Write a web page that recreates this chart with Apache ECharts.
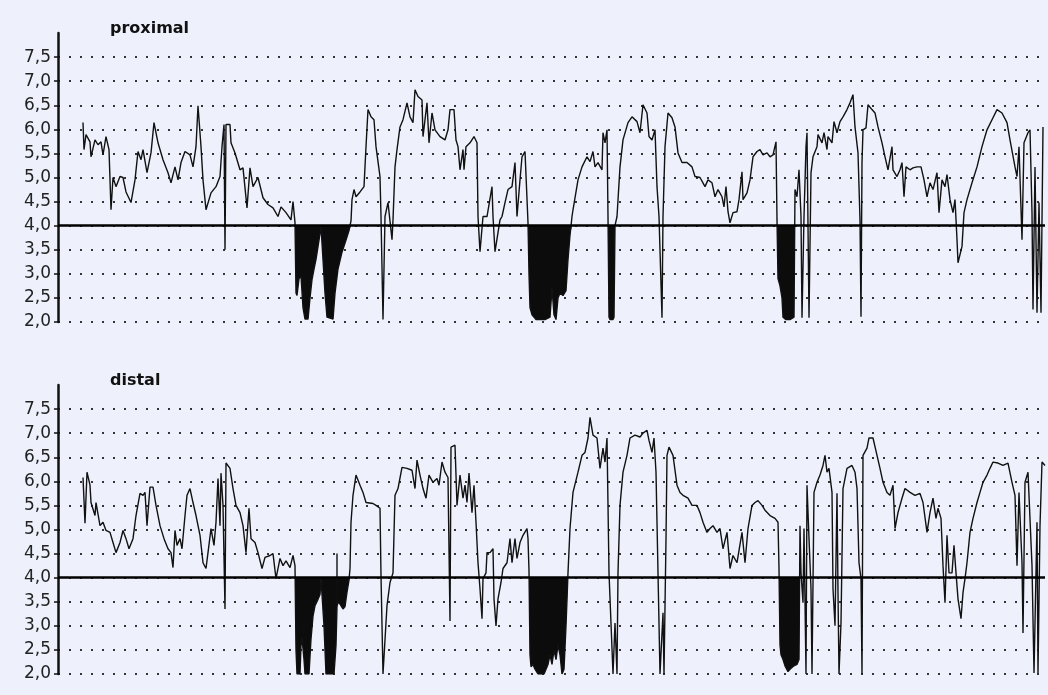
<!DOCTYPE html>
<html>
<head>
<meta charset="utf-8">
<script src="https://cdn.jsdelivr.net/npm/echarts@6/dist/echarts.min.js"></script>
<style>
  html, body { margin: 0; padding: 0; background: #eef1fb; }
  #chart { width: 1048px; height: 695px; }
</style>
</head>
<body>
<div id="chart"></div>
<script>
// pH ticks shown on both panels
const tickLabels = [2.0, 2.5, 3.0, 3.5, 4.0, 4.5, 5.0, 5.5, 6.0, 6.5, 7.0, 7.5]

// proximal probe: recording time (arbitrary units) and pH
const proxTime = [83, 84, 86, 90, 91, 95, 98, 101, 103, 106, 109, 111, 113, 116, 120, 123, 126, 131, 135, 138, 141, 143, 147, 151, 154, 158, 163, 168, 171, 175, 178, 181, 185, 190, 193, 196, 198, 201, 203, 206, 211, 216, 220, 222, 224, 225, 226, 230, 231, 235, 240, 243, 247, 250, 253, 258, 263, 268, 273, 278, 281, 286, 291, 293, 295,
  296, 297, 299, 301, 303, 305, 308, 310, 312, 314, 316, 319, 321, 322, 323, 325, 327, 333, 335, 338, 342, 346, 349, 351,
  352, 354, 356, 360, 364, 366, 368, 371, 374, 376, 380, 381, 383, 385, 388, 392, 393, 395, 397, 400, 403, 407, 410, 413, 415, 418, 422, 423, 427, 429, 432, 435, 440, 445, 448, 450, 454, 456, 458, 460, 463, 464, 466, 470, 474, 477, 478, 480, 483, 487, 492, 493, 495, 497, 500, 502, 505, 508, 512, 515, 517, 520, 522, 525, 527, 528,
  529, 530, 532, 536, 540, 545, 550, 552, 554, 556, 558, 560, 563, 566, 568, 570, 572,
  573, 578, 582, 587, 590, 593, 595, 598, 602, 603, 605, 607, 608, 609, 610, 613, 614, 615, 617, 620, 623, 628, 632, 637, 640, 643, 647, 649, 652, 655, 657, 659, 662, 663, 665, 668, 672, 675, 678, 682, 687, 692, 695, 700, 705, 708, 712, 715, 718, 722, 724, 726, 728, 730, 733, 737, 739, 742, 743, 747, 750, 753, 757, 760, 763, 767, 770, 773, 776, 777,
  778, 780, 782, 783, 786, 790, 792, 794,
  795, 797, 799, 801, 802, 804, 806, 807, 809, 811, 813, 817, 818, 822, 824, 827, 828, 832, 834, 837, 840, 843, 847, 850, 853, 855, 858, 860, 861, 862, 863, 866, 868, 872, 875, 878, 882, 885, 888, 892, 893, 897, 900, 902, 904, 906, 910, 913, 917, 921, 924, 927, 930, 933, 937, 939, 942, 945, 947, 950, 953, 955, 957, 958, 962, 964, 967, 972, 977, 982, 987, 992, 997, 1002, 1007, 1010, 1015, 1017, 1019, 1022, 1024, 1028, 1030, 1032, 1033, 1035, 1037, 1039, 1041, 1043]
const proxPH = [6.14, 5.58, 5.89, 5.74, 5.43, 5.78, 5.68, 5.74, 5.47, 5.85, 5.58, 4.33, 5.0, 4.81, 5.02, 5.0, 4.7, 4.48, 4.95, 5.54, 5.37, 5.58, 5.1, 5.51, 6.14, 5.72, 5.37, 5.1, 4.89, 5.22, 4.95, 5.31, 5.54, 5.47, 5.22, 5.64, 6.49, 5.64, 4.95, 4.33, 4.68, 4.81, 5.02, 5.64, 6.1, 3.5, 6.1, 6.1, 5.72, 5.51, 5.16, 5.2, 4.37, 5.2, 4.81, 5.0, 4.58, 4.44, 4.37, 4.19, 4.39, 4.27, 4.12, 4.5, 4.06,
  2.6, 2.55, 2.9, 2.95, 2.3, 2.06, 2.06, 2.5, 2.88, 3.1, 3.3, 3.7, 3.98, 4.0, 3.3, 2.6, 2.1, 2.06, 2.6, 3.1, 3.45, 3.7, 3.9, 4.1,
  4.54, 4.75, 4.6, 4.7, 4.81, 5.64, 6.41, 6.26, 6.2, 5.64, 5.02, 4.19, 2.05, 4.19, 4.48, 3.71, 4.12, 5.22, 5.58, 6.05, 6.2, 6.55, 6.26, 6.14, 6.82, 6.68, 6.61, 5.85, 6.55, 5.72, 6.34, 5.99, 5.85, 5.78, 5.99, 6.41, 6.41, 5.78, 5.64, 5.16, 5.58, 5.16, 5.64, 5.72, 5.85, 5.72, 4.19, 3.46, 4.19, 4.19, 4.81, 4.19, 3.46, 3.5, 4.12, 4.19, 4.48, 4.75, 4.81, 5.31, 4.19, 4.95, 5.43, 5.54, 5.51, 4.06,
  3.0, 2.3, 2.15, 2.05, 2.05, 2.05, 2.1, 2.7, 2.15, 2.05, 2.5, 2.6, 2.55, 2.65, 3.3, 3.8, 4.19,
  4.33, 4.95, 5.22, 5.43, 5.33, 5.54, 5.22, 5.31, 5.16, 5.93, 5.72, 5.99, 4.19, 2.1, 2.05, 2.05, 2.1, 4.0, 4.19, 5.22, 5.78, 6.14, 6.26, 6.16, 5.93, 6.51, 6.34, 5.85, 5.78, 5.99, 4.81, 4.19, 2.09, 4.19, 5.64, 6.34, 6.24, 6.05, 5.51, 5.31, 5.31, 5.22, 5.02, 5.0, 4.81, 4.95, 4.89, 4.6, 4.75, 4.6, 4.39, 4.81, 4.29, 4.06, 4.27, 4.29, 4.54, 5.12, 4.54, 4.68, 4.95, 5.43, 5.54, 5.58, 5.47, 5.51, 5.43, 5.47, 5.74, 4.12,
  2.9, 2.75, 2.5, 2.1, 2.05, 2.05, 2.05, 2.1,
  4.75, 4.6, 5.16, 4.19, 2.09, 4.19, 5.64, 5.93, 2.09, 5.1, 5.43, 5.64, 5.89, 5.72, 5.93, 5.58, 5.85, 5.72, 6.16, 5.93, 6.16, 6.26, 6.41, 6.55, 6.72, 6.05, 5.51, 4.12, 2.11, 5.31, 5.99, 6.03, 6.51, 6.41, 6.34, 6.05, 5.72, 5.43, 5.16, 5.64, 5.16, 5.02, 5.16, 5.31, 4.6, 5.22, 5.16, 5.2, 5.22, 5.22, 4.95, 4.6, 4.89, 4.75, 5.1, 4.27, 4.95, 4.81, 5.06, 4.54, 4.27, 4.54, 3.71, 3.23, 3.57, 4.27, 4.54, 4.89, 5.22, 5.64, 5.99, 6.2, 6.41, 6.34, 6.14, 5.78, 5.22, 5.02, 5.64, 3.71, 5.72, 5.93, 5.99, 4.27, 2.26, 5.22, 2.19, 4.48, 2.19, 6.05]
// acid reflux episodes (black filled), start and end time
const proxEpisodes = [[295, 351], [528, 572], [608, 615], [777, 795]]

// distal probe
const distTime = [83, 85, 87, 90, 91, 95, 96, 100, 103, 106, 110, 113, 116, 120, 123, 126, 129, 133, 136, 140, 143, 145, 147, 150, 153, 156, 160, 164, 168, 171, 173, 175, 177, 180, 182, 185, 187, 190, 193, 196, 200, 203, 206, 208, 211, 214, 216, 218, 220, 221, 223, 225, 226, 230, 233, 236, 240, 243, 246, 249, 251, 255, 258, 262, 265, 270, 273, 276, 280, 283, 286, 290, 293, 295,
  296, 297, 300, 301, 302, 304, 305, 309, 311, 313, 315, 318, 320, 321, 322, 324, 326, 330, 334, 336, 337, 337, 337, 338, 340, 343, 345, 347, 349, 350,
  351, 353, 356, 360, 363, 366, 373, 376, 380, 381, 383, 387, 390, 393, 395, 398, 402, 407, 412, 415, 417, 420, 423, 426, 429, 433, 437, 439, 442, 445, 448, 450, 451, 453, 455, 457, 460, 463, 465, 467, 469, 472, 474, 476, 478, 480, 482, 483, 486, 487, 490, 493, 494, 496, 498, 501, 503, 507, 510, 512, 515, 517, 520, 523, 527, 528, 529,
  530, 531, 533, 535, 538, 541, 544, 546, 548, 550, 552, 554, 556, 558, 560, 562, 564, 566, 568,
  570, 573, 578, 582, 585, 588, 590, 593, 597, 600, 603, 605, 607, 609, 613, 615, 617, 618, 620, 623, 627, 630, 635, 640, 643, 647, 649, 652, 654, 656, 658, 660, 663, 664, 666, 667, 669, 673, 677, 680, 683, 688, 692, 697, 700, 703, 707, 710, 713, 717, 720, 723, 727, 730, 733, 737, 742, 745, 748, 752, 755, 758, 762, 765, 770, 775, 778, 779,
  780, 781, 783, 785, 788, 790, 794, 797, 799,
  800, 801, 803, 804, 806, 807, 809, 811, 812, 814, 817, 820, 823, 825, 827, 829, 832, 833, 835, 837, 838, 839, 841, 843, 847, 852, 855, 857, 859, 861, 862, 863, 867, 869, 873, 877, 880, 883, 887, 890, 893, 895, 898, 902, 905, 910, 915, 920, 923, 927, 930, 933, 936, 938, 941, 943, 945, 947, 949, 952, 954, 956, 958, 961, 963, 965, 967, 970, 973, 977, 980, 983, 987, 990, 993, 998, 1003, 1008, 1012, 1015, 1017, 1019, 1022, 1023, 1025, 1028, 1030, 1032, 1034, 1037, 1038, 1040, 1042, 1045]
const distPH = [6.08, 5.13, 6.19, 5.92, 5.56, 5.29, 5.56, 5.08, 5.15, 4.98, 4.94, 4.73, 4.52, 4.73, 4.98, 4.81, 4.6, 4.81, 5.29, 5.75, 5.71, 5.77, 5.08, 5.88, 5.88, 5.5, 5.08, 4.81, 4.6, 4.52, 4.21, 4.98, 4.67, 4.81, 4.6, 5.29, 5.71, 5.85, 5.56, 5.29, 4.88, 4.31, 4.19, 4.52, 5.02, 4.67, 5.15, 6.06, 5.08, 6.17, 5.5, 3.35, 6.38, 6.27, 5.85, 5.5, 5.35, 5.08, 4.52, 5.44, 4.81, 4.73, 4.52, 4.19, 4.42, 4.46, 4.5, 3.98, 4.4, 4.25, 4.35, 4.21, 4.46, 4.25,
  2.5, 2.0, 2.0, 2.6, 2.75, 2.3, 2.0, 2.0, 2.73, 3.2, 3.42, 3.55, 3.65, 3.98, 4.0, 3.0, 2.0, 2.0, 2.0, 2.6, 3.4, 4.5, 3.4, 3.5, 3.45, 3.35, 3.4, 3.7, 3.95, 4.19,
  5.15, 5.71, 6.13, 5.92, 5.77, 5.56, 5.54, 5.5, 5.44, 4.04, 2.0, 3.42, 3.9, 4.1, 5.71, 5.85, 6.29, 6.27, 6.23, 5.85, 6.44, 6.13, 5.85, 5.65, 6.13, 5.98, 6.06, 5.92, 6.4, 6.19, 6.08, 3.1, 6.71, 6.69, 6.75, 5.5, 6.13, 5.65, 5.92, 5.56, 6.17, 5.35, 5.92, 5.15, 4.31, 3.77, 3.15, 3.98, 4.1, 4.52, 4.52, 4.6, 3.56, 3.0, 3.56, 3.9, 4.19, 4.31, 4.81, 4.31, 4.81, 4.4, 4.73, 4.88, 5.02, 4.81, 4.15,
  2.4, 2.15, 2.2, 2.1, 2.0, 2.0, 2.0, 2.1, 2.2, 2.4, 2.2, 2.5, 2.3, 2.6, 2.4, 2.0, 2.1, 3.0, 4.1,
  5.02, 5.77, 6.19, 6.54, 6.6, 6.9, 7.33, 6.96, 6.9, 6.27, 6.69, 6.4, 6.9, 4.1, 2.0, 3.06, 2.0, 4.1, 5.5, 6.19, 6.54, 6.9, 6.96, 6.92, 7.0, 7.06, 6.85, 6.6, 6.9, 6.19, 4.1, 2.0, 3.27, 2.0, 4.81, 6.54, 6.71, 6.54, 5.92, 5.77, 5.71, 5.65, 5.5, 5.5, 5.35, 5.15, 4.94, 5.02, 5.08, 4.94, 5.02, 4.6, 4.94, 4.19, 4.46, 4.31, 4.94, 4.31, 5.02, 5.5, 5.56, 5.6, 5.5, 5.4, 5.29, 5.23, 5.15, 4.19,
  2.6, 2.4, 2.3, 2.17, 2.05, 2.1, 2.17, 2.2, 2.3,
  5.08, 4.1, 3.48, 5.02, 2.0, 5.92, 4.81, 3.77, 2.0, 5.77, 5.98, 6.13, 6.33, 6.54, 6.19, 6.27, 5.77, 3.77, 3.0, 5.75, 3.69, 2.0, 3.06, 5.85, 6.27, 6.33, 6.19, 5.85, 4.31, 3.98, 2.0, 6.54, 6.69, 6.9, 6.9, 6.54, 6.27, 5.98, 5.77, 5.71, 5.92, 5.02, 5.35, 5.65, 5.85, 5.77, 5.71, 5.75, 5.56, 4.94, 5.35, 5.65, 5.23, 5.44, 5.23, 4.25, 3.48, 4.88, 4.1, 4.1, 4.67, 4.1, 3.56, 3.15, 3.69, 3.98, 4.31, 4.94, 5.23, 5.56, 5.77, 5.98, 6.13, 6.27, 6.4, 6.38, 6.33, 6.38, 5.98, 5.71, 4.25, 5.77, 4.31, 2.85, 5.98, 6.19, 6.19, 4.25, 2.02, 5.15, 2.02, 5.08, 6.4, 6.33]
const distEpisodes = [[295, 350], [529, 568], [779, 800]]

const panelNames = ['proximal', 'distal']

const chart = echarts.init(document.getElementById('chart'))

const gridTops = [33, 385]
const ink = '#111'

// dotted lines for every tick, none at the (hidden) top of the axis
const dotColors = tickLabels.map(() => '#333').concat(['rgba(0,0,0,0)'])

const makeY = (i) => ({
  type: 'value',
  gridIndex: i,
  min: 2,
  max: 8,
  interval: 0.5,
  axisLine: { show: true, lineStyle: { color: ink, width: 2.5 } },
  axisTick: { show: true, length: 4, customValues: tickLabels, lineStyle: { color: ink, width: 1.5 } },
  axisLabel: {
    customValues: tickLabels,
    formatter: v => v.toFixed(1).replace('.', ','),
    fontSize: 17,
    color: '#222',
    margin: 7,
    fontFamily: 'DejaVu Sans'
  },
  splitLine: { show: true, lineStyle: { color: dotColors, type: [2, 9], width: 2 } }
})

const makeX = (i) => ({
  type: 'value',
  gridIndex: i,
  min: 58,
  max: 1045,
  show: false,
  splitLine: { show: false }
})

const inEpisode = (x, eps) => eps.some(([a, b]) => x >= a && x <= b)

const panels = [[proxTime, proxPH, proxEpisodes], [distTime, distPH, distEpisodes]]

const series = []
panels.forEach(([t, ph, eps], i) => {
  // acid exposure: filled between pH 4 and the trace during each episode
  series.push({
    type: 'line',
    xAxisIndex: i,
    yAxisIndex: i,
    data: t.map((x, k) => [x, inEpisode(x, eps) ? Math.min(ph[k], 4) : null]),
    connectNulls: false,
    showSymbol: false,
    lineStyle: { width: 0 },
    areaStyle: { color: '#0c0c0c', opacity: 1, origin: 4 },
    z: 2,
    silent: true
  })
  series.push({
    type: 'line',
    xAxisIndex: i,
    yAxisIndex: i,
    data: t.map((x, k) => [x, ph[k]]),
    showSymbol: false,
    lineStyle: { color: ink, width: 1.4 },
    z: 3,
    silent: true,
    markLine: {
      silent: true,
      symbol: 'none',
      label: { show: false },
      lineStyle: { color: '#000', type: 'solid', width: 2.5 },
      data: [{ yAxis: 4 }]
    }
  })
})

const option = {
  backgroundColor: '#eef1fb',
  animation: false,
  title: panelNames.map((name, i) => ({
    text: name,
    left: 110,
    top: gridTops[i] - 12,
    padding: 0,
    textStyle: { fontSize: 16, fontWeight: 'bold', color: '#111', fontFamily: 'DejaVu Sans' }
  })),
  grid: gridTops.map(top => ({ left: 58, right: 3, top: top, height: 289 })),
  xAxis: [makeX(0), makeX(1)],
  yAxis: [makeY(0), makeY(1)],
  series: series
}

chart.setOption(option)
</script>
</body>
</html>
